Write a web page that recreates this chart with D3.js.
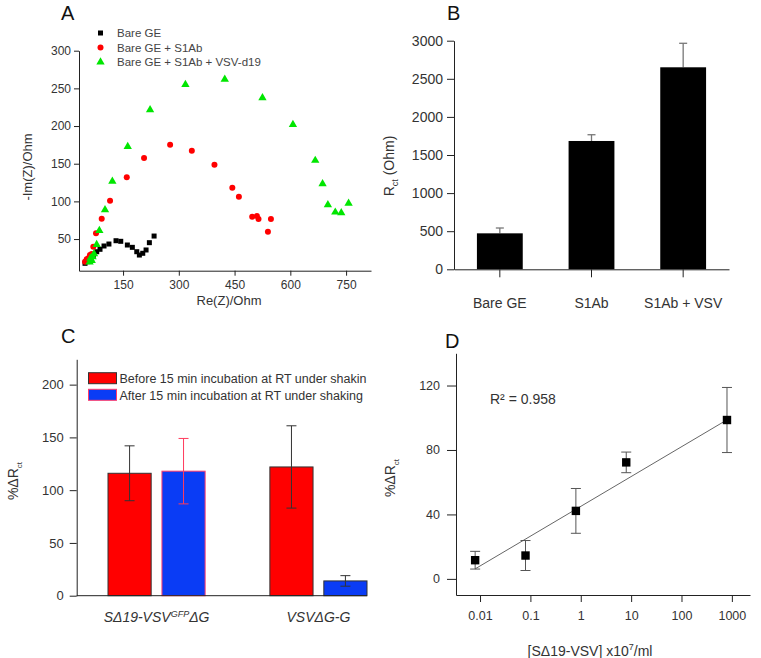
<!DOCTYPE html>
<html>
<head>
<meta charset="utf-8">
<script src="https://cdn.jsdelivr.net/npm/d3@7"></script>
<style>
  body { margin: 0; background: #fff; }
  svg { display: block; font-family: "Liberation Sans", Arial, sans-serif; }
  .axis text { fill: #333; }
  .axis path, .axis line { stroke: #222; }
  .panel-letter { font-size: 20px; fill: #111; }
</style>
</head>
<body>
<div id="chart"></div>
<script>
// ---- Panel A: Nyquist plot ----
const aSeriesNames = ['Bare GE', 'Bare GE + S1Ab', 'Bare GE + S1Ab + VSV-d19'];
const aXTicks = [150, 300, 450, 600, 750];
const aYTicks = [50, 100, 150, 200, 250, 300];
const aBare = [
  [47.7, 17.8], [54.9, 20], [61, 23.1], [70, 27.5], [79.2, 33.2], [88, 36.4],
  [98.8, 40.8], [112, 43.4], [131.1, 47.8], [143.8, 47], [161.6, 42.1], [175, 39],
  [186.9, 33.2], [193.9, 28.8], [203, 31.1], [211.9, 35.5], [220.8, 45.2], [233.5, 54]
];
const aS1Ab = [
  [47.7, 20], [52.2, 23.1], [56.5, 24.5], [61, 28.8], [65.7, 30.2], [70, 39.8],
  [77.3, 57.6], [92.6, 77], [115, 100.9], [160, 132], [206.5, 157.6], [276.6, 175.2],
  [335, 167.2], [395.9, 148.7], [444, 118], [461.6, 106.2], [497.4, 79.7], [510, 80.6],
  [514.4, 76.6], [539.7, 59.8], [547.8, 76.6]
];
const aVsv = [
  [60, 20], [62, 25], [65.7, 22.2], [68, 27], [71.9, 31], [79, 43.4], [86.2, 62],
  [101.5, 89.5], [121.2, 127.4], [162.6, 173.5], [222.7, 222.2], [317.8, 255.8],
  [423.6, 262.8], [525, 238], [607, 202.7], [667, 155], [686.7, 124], [701, 96],
  [720.9, 86.3], [737, 85.5], [756.7, 98.2]
];

// ---- Panel B: Rct bars ----
const bCategories = ['Bare GE', 'S1Ab', 'S1Ab + VSV'];
const bValues = [472, 1684, 2651];
const bErrors = [70, 82, 315];
const bYTicks = [0, 500, 1000, 1500, 2000, 2500, 3000];

// ---- Panel C: grouped bars ----
const cGroups = ['g1', 'g2'];
const cSubgroups = ['Before 15 min incubation at RT under shakin', 'After 15 min incubation at RT under shaking'];
const cBefore = [116, 122];
const cBeforeErr = [26, 39];
const cAfter = [118, 14];
const cAfterErr = [31, 5];
const cYTicks = [0, 50, 100, 150, 200];

// ---- Panel D: calibration ----
const dConc = [0.008, 0.08, 0.8, 8, 800];
const dValues = [11.6, 14.5, 42.2, 72.3, 98.6];
const dErrors = [5.5, 9.3, 13.9, 6.4, 20.2];
const dXTicks = [0.01, 0.1, 1, 10, 100, 1000];
const dXTickLabels = ['0.01', '0.1', '1', '10', '100', '1000'];
const dYTicks = [0, 40, 80, 120];
const dFitIntercept = 45.0; // y at log10(x) = 0
const dFitSlope = 18.5;     // per decade
const dR2 = '0.958';

const svg = d3.select('#chart').append('svg')
  .attr('width', 761)
  .attr('height', 658);

const styleAxis = (g, size) => {
  g.attr('font-size', size).attr('font-family', null);
  g.selectAll('path').attr('stroke', '#222');
  g.selectAll('line').attr('stroke', '#222');
  g.selectAll('text').attr('fill', '#333');
};

// ================= Panel A =================
const xA = d3.scaleLinear().domain([31.5, 817]).range([79, 371]);
const yA = d3.scaleLinear().domain([8, 300]).range([270.7, 50.7]);
const pA = svg.append('g').attr('class', 'panel-a');

pA.append('text').attr('class', 'panel-letter').attr('x', 61).attr('y', 20).text('A');

pA.append('g')
  .attr('class', 'axis')
  .attr('transform', `translate(0,${yA.range()[0]})`)
  .call(d3.axisBottom(xA).tickValues(aXTicks).tickFormat(d3.format('d')).tickSize(5).tickSizeOuter(0).tickPadding(5))
  .call((g) => styleAxis(g, 12));

pA.append('g')
  .attr('class', 'axis')
  .attr('transform', `translate(${xA.range()[0]},0)`)
  .call(d3.axisLeft(yA).tickValues(aYTicks).tickFormat(d3.format('d')).tickSize(5).tickSizeOuter(0).tickPadding(3))
  .call((g) => styleAxis(g, 12));

pA.append('text')
  .attr('x', 229).attr('y', 305)
  .attr('text-anchor', 'middle')
  .attr('font-size', 13).attr('fill', '#333')
  .text('Re(Z)/Ohm');

pA.append('text')
  .attr('transform', 'translate(27,167) rotate(-90)')
  .attr('text-anchor', 'middle').attr('dy', '0.35em')
  .attr('font-size', 13).attr('fill', '#333')
  .text('-Im(Z)/Ohm');

const triangle = d3.symbol().type(d3.symbolTriangle).size(30);

pA.append('g').selectAll('rect')
  .data(aBare).join('rect')
  .attr('x', (d) => xA(d[0]) - 2.5)
  .attr('y', (d) => yA(d[1]) - 2.5)
  .attr('width', 5).attr('height', 5)
  .attr('fill', '#000');

pA.append('g').selectAll('circle')
  .data(aS1Ab).join('circle')
  .attr('cx', (d) => xA(d[0]))
  .attr('cy', (d) => yA(d[1]))
  .attr('r', 3)
  .attr('fill', '#ff0000');

pA.append('g').selectAll('path')
  .data(aVsv).join('path')
  .attr('d', triangle)
  .attr('transform', (d) => `translate(${xA(d[0])},${yA(d[1]) + 0.5})`)
  .attr('fill', '#00e600');

// legend A
const legA = pA.append('g').attr('class', 'legend');
aSeriesNames.forEach((name, i) => {
  const ly = 33 + i * 14.5;
  if (i === 0) {
    legA.append('rect').attr('x', 98).attr('y', ly - 2.5).attr('width', 5).attr('height', 5).attr('fill', '#000');
  } else if (i === 1) {
    legA.append('circle').attr('cx', 100.5).attr('cy', ly).attr('r', 3).attr('fill', '#ff0000');
  } else {
    legA.append('path').attr('d', triangle).attr('transform', `translate(100.5,${ly})`).attr('fill', '#00e600');
  }
  legA.append('text')
    .attr('x', 117).attr('y', ly + 4)
    .attr('font-size', 11.5).attr('fill', '#444')
    .text(name);
});

// ================= Panel B =================
const xB = d3.scaleBand().domain(bCategories).range([454, 729]).paddingInner(0.5).paddingOuter(0.25);
const yB = d3.scaleLinear().domain([0, 3000]).range([269.3, 40.7]);
const pB = svg.append('g').attr('class', 'panel-b');

pB.append('text').attr('class', 'panel-letter').attr('x', 447).attr('y', 19.5).text('B');

pB.append('g').selectAll('line.err')
  .data(bValues).join('line')
  .attr('class', 'err')
  .attr('x1', (d, i) => xB(bCategories[i]) + xB.bandwidth() / 2)
  .attr('x2', (d, i) => xB(bCategories[i]) + xB.bandwidth() / 2)
  .attr('y1', (d) => yB(d))
  .attr('y2', (d, i) => yB(d + bErrors[i]))
  .attr('stroke', '#777').attr('stroke-width', 1.3);

pB.append('g').selectAll('line.cap')
  .data(bValues).join('line')
  .attr('class', 'cap')
  .attr('x1', (d, i) => xB(bCategories[i]) + xB.bandwidth() / 2 - 4)
  .attr('x2', (d, i) => xB(bCategories[i]) + xB.bandwidth() / 2 + 4)
  .attr('y1', (d, i) => yB(d + bErrors[i]))
  .attr('y2', (d, i) => yB(d + bErrors[i]))
  .attr('stroke', '#777').attr('stroke-width', 1.3);

pB.append('g').selectAll('rect')
  .data(bValues).join('rect')
  .attr('x', (d, i) => xB(bCategories[i]))
  .attr('y', (d) => yB(d))
  .attr('width', xB.bandwidth())
  .attr('height', (d) => yB(0) - yB(d))
  .attr('fill', '#000');

pB.append('g')
  .attr('class', 'axis')
  .attr('transform', `translate(0,${yB.range()[0]})`)
  .call(d3.axisBottom(xB).tickSize(8).tickSizeOuter(0).tickPadding(21))
  .call((g) => styleAxis(g, 14));

pB.append('g')
  .attr('class', 'axis')
  .attr('transform', `translate(${xB.range()[0]},0)`)
  .call(d3.axisLeft(yB).tickValues(bYTicks).tickFormat(d3.format('d')).tickSize(7).tickSizeOuter(0).tickPadding(4))
  .call((g) => styleAxis(g, 14));

const yLabB = pB.append('text')
  .attr('transform', 'translate(389,166) rotate(-90)')
  .attr('text-anchor', 'middle').attr('dy', '0.35em')
  .attr('font-size', 14).attr('fill', '#333');
yLabB.append('tspan').text('R');
yLabB.append('tspan').attr('font-size', 9).attr('dy', 4).text('ct');
yLabB.append('tspan').attr('dy', -4).text(' (Ohm)');

// ================= Panel C =================
const xC = d3.scaleBand().domain(cGroups).range([108, 367]).paddingInner(0.4).paddingOuter(0);
const xCSub = d3.scaleBand().domain([0, 1]).range([0, xC.bandwidth()]).paddingInner(0.2);
const yC = d3.scaleLinear().domain([0, 224]).range([595.7, 359.3]);
const pC = svg.append('g').attr('class', 'panel-c');

pC.append('text').attr('class', 'panel-letter').attr('x', 61).attr('y', 343).text('C');

const cRows = cGroups.map((g, i) => [
  { group: g, sub: 0, value: cBefore[i], err: cBeforeErr[i], fill: '#ff0000', stroke: '#333', errColor: '#333' },
  { group: g, sub: 1, value: cAfter[i], err: cAfterErr[i], fill: '#0a3cf5', stroke: i === 0 ? '#ff3b6b' : '#333', errColor: i === 0 ? '#ff3b5c' : '#333' },
]).flat();

pC.append('g').selectAll('rect')
  .data(cRows).join('rect')
  .attr('x', (d) => xC(d.group) + xCSub(d.sub))
  .attr('y', (d) => yC(d.value))
  .attr('width', xCSub.bandwidth())
  .attr('height', (d) => yC(0) - yC(d.value))
  .attr('fill', (d) => d.fill)
  .attr('stroke', (d) => d.stroke)
  .attr('stroke-width', 1);

const errC = pC.append('g').selectAll('g')
  .data(cRows).join('g')
  .attr('transform', (d) => `translate(${xC(d.group) + xCSub(d.sub) + xCSub.bandwidth() / 2},0)`)
  .attr('stroke', (d) => d.errColor)
  .attr('stroke-width', 1);
errC.append('line').attr('y1', (d) => yC(d.value - d.err)).attr('y2', (d) => yC(d.value + d.err));
errC.append('line').attr('x1', -5).attr('x2', 5).attr('y1', (d) => yC(d.value + d.err)).attr('y2', (d) => yC(d.value + d.err));
errC.append('line').attr('x1', -5).attr('x2', 5).attr('y1', (d) => yC(d.value - d.err)).attr('y2', (d) => yC(d.value - d.err));

const yAxisCx = 76.7;
pC.append('g')
  .attr('class', 'axis')
  .attr('transform', `translate(${yAxisCx},0)`)
  .call(d3.axisLeft(yC).tickValues(cYTicks).tickFormat(d3.format('d')).tickSize(7).tickSizeOuter(0).tickPadding(6))
  .call((g) => styleAxis(g, 13));

pC.append('line')
  .attr('x1', yAxisCx).attr('x2', xC.range()[1])
  .attr('y1', yC(0)).attr('y2', yC(0))
  .attr('stroke', '#222');

// x labels C
const cLab1 = pC.append('text')
  .attr('x', xC('g1') + xC.bandwidth() / 2).attr('y', 621.7)
  .attr('text-anchor', 'middle').attr('font-style', 'italic')
  .attr('font-size', 14).attr('fill', '#333');
cLab1.append('tspan').text('SΔ19-VSV');
cLab1.append('tspan').attr('font-size', 9).attr('dy', -5).text('GFP');
cLab1.append('tspan').attr('dy', 5).text('ΔG');

pC.append('text')
  .attr('x', xC('g2') + xC.bandwidth() / 2).attr('y', 621.7)
  .attr('text-anchor', 'middle').attr('font-style', 'italic')
  .attr('font-size', 14).attr('fill', '#333')
  .text('VSVΔG-G');

const yLabC = pC.append('text')
  .attr('transform', 'translate(13,481) rotate(-90)')
  .attr('text-anchor', 'middle').attr('dy', '0.35em')
  .attr('font-size', 14).attr('fill', '#333');
yLabC.append('tspan').text('%ΔR');
yLabC.append('tspan').attr('font-size', 8).attr('dy', 4).text('ct');

// legend C
const legC = pC.append('g');
cSubgroups.forEach((name, i) => {
  const ly = 372.7 + i * 16.6;
  legC.append('rect')
    .attr('x', 88.5).attr('y', ly).attr('width', 28).attr('height', 11)
    .attr('fill', i === 0 ? '#ff0000' : '#0a3cf5')
    .attr('stroke', i === 0 ? '#333' : '#ff3b6b');
  legC.append('text')
    .attr('x', 119.5).attr('y', ly + 10.3)
    .attr('font-size', 12.5).attr('fill', '#333')
    .text(name);
});

// ================= Panel D =================
const xD = d3.scaleLog().domain([Math.pow(10, -2.477), Math.pow(10, 3.36)]).range([456, 750]);
const yD = d3.scaleLinear().domain([-10, 140]).range([595, 353.3]);
const pD = svg.append('g').attr('class', 'panel-d');

pD.append('text').attr('class', 'panel-letter').attr('x', 445).attr('y', 348).text('D');

pD.append('g')
  .attr('class', 'axis')
  .attr('transform', `translate(0,${yD.range()[0]})`)
  .call(d3.axisBottom(xD).tickValues(dXTicks).tickFormat((d, i) => dXTickLabels[i]).tickSize(7).tickSizeOuter(0).tickPadding(9))
  .call((g) => styleAxis(g, 12.5));

pD.append('g')
  .attr('class', 'axis')
  .attr('transform', `translate(${xD.range()[0]},0)`)
  .call(d3.axisLeft(yD).tickValues(dYTicks).tickFormat(d3.format('d')).tickSize(9).tickSizeOuter(0).tickPadding(7))
  .call((g) => styleAxis(g, 12.5));

// fit line
const fitX = d3.extent(dConc);
pD.append('line')
  .attr('x1', xD(fitX[0])).attr('x2', xD(fitX[1]))
  .attr('y1', yD(dFitIntercept + dFitSlope * Math.log10(fitX[0])))
  .attr('y2', yD(dFitIntercept + dFitSlope * Math.log10(fitX[1])))
  .attr('stroke', '#666').attr('stroke-width', 1);

const errD = pD.append('g').selectAll('g')
  .data(dConc).join('g')
  .attr('transform', (d) => `translate(${xD(d)},0)`)
  .attr('stroke', '#555').attr('stroke-width', 1);
errD.append('line').attr('y1', (d, i) => yD(dValues[i] - dErrors[i])).attr('y2', (d, i) => yD(dValues[i] + dErrors[i]));
errD.append('line').attr('x1', -5).attr('x2', 5).attr('y1', (d, i) => yD(dValues[i] + dErrors[i])).attr('y2', (d, i) => yD(dValues[i] + dErrors[i]));
errD.append('line').attr('x1', -5).attr('x2', 5).attr('y1', (d, i) => yD(dValues[i] - dErrors[i])).attr('y2', (d, i) => yD(dValues[i] - dErrors[i]));

pD.append('g').selectAll('rect')
  .data(dConc).join('rect')
  .attr('x', (d) => xD(d) - 4.2)
  .attr('y', (d, i) => yD(dValues[i]) - 4.2)
  .attr('width', 8.4).attr('height', 8.4)
  .attr('fill', '#000');

const r2 = pD.append('text')
  .attr('x', 490).attr('y', 404)
  .attr('font-size', 14).attr('fill', '#333');
r2.text(`R² = ${dR2}`);

const xLabD = pD.append('text')
  .attr('x', 590).attr('y', 656)
  .attr('text-anchor', 'middle')
  .attr('font-size', 14).attr('fill', '#333');
xLabD.append('tspan').text('[SΔ19-VSV] x10');
xLabD.append('tspan').attr('font-size', 9).attr('dy', -6).text('7');
xLabD.append('tspan').attr('dy', 6).text('/ml');

const yLabD = pD.append('text')
  .attr('transform', 'translate(390,478) rotate(-90)')
  .attr('text-anchor', 'middle').attr('dy', '0.35em')
  .attr('font-size', 14).attr('fill', '#333');
yLabD.append('tspan').text('%ΔR');
yLabD.append('tspan').attr('font-size', 8).attr('dy', 4).text('ct');
</script>
</body>
</html>
